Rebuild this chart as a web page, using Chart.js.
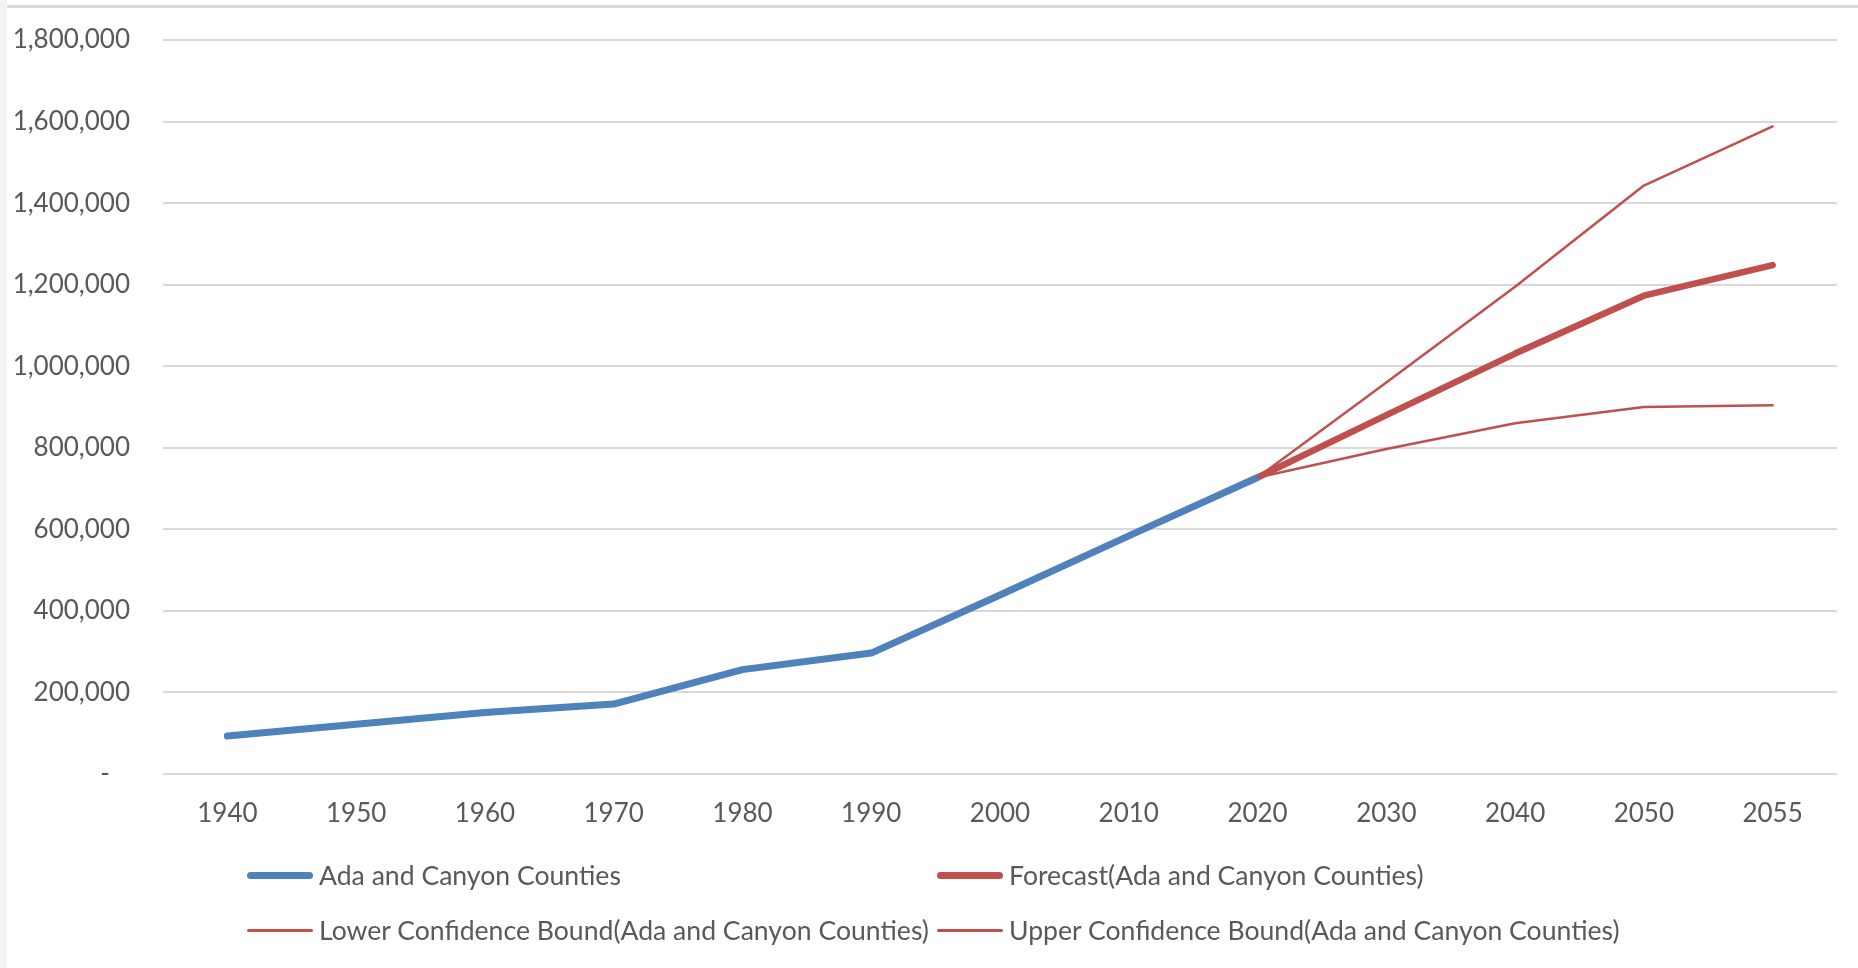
<!DOCTYPE html>
<html>
<head>
<meta charset="utf-8">
<script src="https://cdn.jsdelivr.net/npm/chart.js@4"></script>
<style>
  html, body { margin: 0; padding: 0; background: #fff; }
  #wrap { position: relative; width: 1858px; height: 968px; overflow: hidden; }
  #edge { position: absolute; left: 0; top: 0; width: 7px; height: 968px; background: #f3f3f3; }
  #topline { position: absolute; left: 7px; top: 5px; right: 0; height: 3px; background: #dadada; }
  #chart { position: absolute; left: 0; top: 0; }
  .leg { position: absolute; font-family: Lato, sans-serif; font-size: 26.6px; color: #595959; white-space: nowrap; line-height: 30px; }
  .leg .swatch { position: absolute; top: 50%; border-radius: 4px; }
</style>
</head>
<body>
<div id="wrap">
  <canvas id="chart" width="1858" height="968"></canvas>
  <div id="edge"></div>
  <div id="topline"></div>
  <div id="legend"></div>
</div>
<script>
const years = ['1940', '1950', '1960', '1970', '1980', '1990', '2000', '2010', '2020', '2030', '2040', '2050', '2055'];

// observed population, ends at 2020
const actual = [93000, 122000, 151000, 171500, 256000, 296500, 439000, 584000, 727000, null, null, null, null];
// forecast + confidence bounds start at 2020
const forecast = [null, null, null, null, null, null, null, null, 727000, 880000, 1031000, 1173000, 1248000];
const lowerBound = [null, null, null, null, null, null, null, null, 727000, 797000, 860000, 900000, 904000];
const upperBound = [null, null, null, null, null, null, null, null, 727000, 960000, 1195000, 1443000, 1588000];

const seriesNames = [
  'Ada and Canyon Counties',
  'Forecast(Ada and Canyon Counties)',
  'Lower Confidence Bound(Ada and Canyon Counties)',
  'Upper Confidence Bound(Ada and Canyon Counties)'
];

const BLUE = '#4F81BD';
const RED = '#C0504D';
const TEXT = '#595959';
const FONT = { family: 'Lato', size: 26 };

function lineSet(label, data, color, width) {
  return {
    label,
    data,
    borderColor: color,
    backgroundColor: color,
    borderWidth: width,
    pointRadius: 0,
    tension: 0,
    fill: false,
    spanGaps: false,
    borderCapStyle: 'round',
    borderJoinStyle: 'round'
  };
}

const ctx = document.getElementById('chart').getContext('2d');
const chart = new Chart(ctx, {
  type: 'line',
  data: {
    labels: years,
    datasets: [
      lineSet(seriesNames[2], lowerBound, RED, 2.5),
      lineSet(seriesNames[3], upperBound, RED, 2.5),
      lineSet(seriesNames[0], actual, BLUE, 7),
      lineSet(seriesNames[1], forecast, RED, 6.5)
    ]
  },
  options: {
    responsive: false,
    animation: false,
    layout: { padding: { top: 40, right: 21, bottom: 114, left: 0 } },
    plugins: {
      legend: { display: false },
      tooltip: { enabled: false }
    },
    scales: {
      x: {
        offset: true,
        grid: { display: false, drawTicks: false },
        border: { display: false },
        ticks: { font: FONT, color: TEXT, padding: 24, autoSkip: false, maxRotation: 0 },
        afterFit: (s) => { s.height = 80; }
      },
      y: {
        min: 0,
        max: 1800000,
        grid: { color: '#d9d9d9', lineWidth: 2, drawTicks: false },
        border: { display: false },
        ticks: {
          stepSize: 200000,
          font: FONT,
          color: TEXT,
          padding: 33,
          callback: (v) => v === 0 ? '-   ' : v.toLocaleString('en-US')
        },
        // fixed axis width; drop the label padding so layout padding decides the plot top
        afterFit: (s) => { s.width = 163; s.paddingTop = 0; s.paddingBottom = 0; }
      }
    }
  }
});

// legend laid out in two columns like the original
const legendItems = [
  { name: seriesNames[0], color: BLUE, thick: 7, x: 247, y: 875 },
  { name: seriesNames[1], color: RED, thick: 7, x: 937, y: 875 },
  { name: seriesNames[2], color: RED, thick: 3, x: 247, y: 930 },
  { name: seriesNames[3], color: RED, thick: 3, x: 937, y: 930 }
];
const legendEl = document.getElementById('legend');
legendItems.forEach(item => {
  const div = document.createElement('div');
  div.className = 'leg';
  div.style.left = item.x + 'px';
  div.style.top = (item.y - 15) + 'px';
  div.style.paddingLeft = '72px';
  const sw = document.createElement('span');
  sw.className = 'swatch';
  sw.style.left = '0px';
  sw.style.width = '66px';
  sw.style.height = item.thick + 'px';
  sw.style.marginTop = (-item.thick / 2) + 'px';
  sw.style.background = item.color;
  div.appendChild(sw);
  div.appendChild(document.createTextNode(item.name));
  legendEl.appendChild(div);
});
</script>
</body>
</html>
